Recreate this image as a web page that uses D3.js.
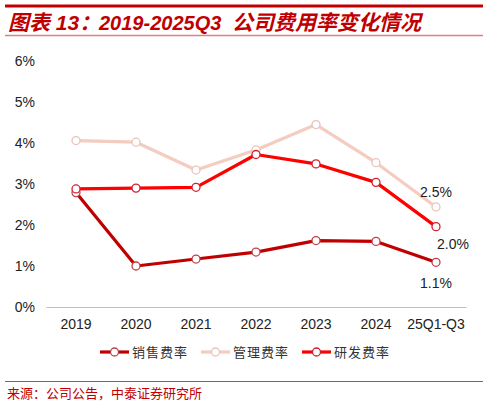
<!DOCTYPE html>
<html>
<head>
<meta charset="utf-8">
<script src="https://cdn.jsdelivr.net/npm/d3@7"></script>
<style>
  body { margin: 0; background: #fff; }
  svg { display: block; }
</style>
</head>
<body>
<div class="graph"></div>
<script>
// data
var years = ["2019", "2020", "2021", "2022", "2023", "2024", "25Q1-Q3"];
var salesRate = [2.79, 1.00, 1.17, 1.34, 1.62, 1.60, 1.09];
var adminRate = [4.06, 4.02, 3.34, 3.83, 4.45, 3.52, 2.44];
var rdRate = [2.88, 2.90, 2.92, 3.72, 3.49, 3.04, 1.96];
var yTicks = [0, 1, 2, 3, 4, 5, 6];
var seriesNames = ["销售费率", "管理费率", "研发费率"];
var endLabels = ["1.1%", "2.5%", "2.0%"];

var W = 488, H = 406;
var red = "#C00000";

var svg = d3.select('.graph').append('svg')
    .attr('width', W)
    .attr('height', H);

// title block
svg.append('line').attr('x1', 5).attr('x2', 483).attr('y1', 6).attr('y2', 6)
    .attr('stroke', "#C00000").attr('stroke-width', 3);
var title = svg.append('text')
    .attr('x', 8).attr('y', 30)
    .attr('fill', red)
    .style('font-family', 'Liberation Sans, "Noto Sans CJK SC", sans-serif')
    .style('font-weight', 'bold')
    .style('font-style', 'italic');
title.append('tspan').style('font-size', '21px').text("图表 13：");
title.append('tspan').attr('x', 99).style('font-size', '20px').text("2019-2025Q3");
title.append('tspan').attr('x', 232).style('font-size', '21px').text("公司费用率变化情况");
svg.append('line').attr('x1', 5).attr('x2', 483).attr('y1', 35.5).attr('y2', 35.5)
    .attr('stroke', "#E08080").attr('stroke-width', 1.5);

// scales
var x = d3.scaleBand().domain(years).range([46, 466]);
var y = d3.scaleLinear().domain([0, 6]).range([307, 61]);
var cx = function (d, i) { return x(years[i]) + x.bandwidth() / 2; };

// y axis labels
svg.append('g').selectAll('text')
    .data(yTicks).enter().append('text')
    .attr('x', 35).attr('y', function (d) { return y(d); })
    .attr('dy', '0.35em')
    .attr('text-anchor', 'end')
    .attr('fill', '#222')
    .style('font-family', 'Liberation Sans, Arial, sans-serif')
    .style('font-size', '14px')
    .text(function (d) { return d + "%"; });

// x axis
var xAxis = svg.append('g')
    .attr('transform', 'translate(0,' + y(0) + ')')
    .call(d3.axisBottom(x).tickSize(0).tickPadding(12));
xAxis.select('.domain').attr('stroke', '#BFBFBF').attr('stroke-width', 1);
xAxis.selectAll('text')
    .attr('fill', '#222')
    .style('font-family', 'Liberation Sans, Arial, sans-serif')
    .style('font-size', '14px');

var series = [
    { name: seriesNames[0], values: salesRate, color: "#C00000", marker: "#C0404A" },
    { name: seriesNames[1], values: adminRate, color: "#F4CCC0", marker: "#E6C4BC" },
    { name: seriesNames[2], values: rdRate, color: "#FF0000", marker: "#D02030" }
];

var line = d3.line()
    .x(cx)
    .y(function (d) { return y(d); });

// draw admin first so sales/rd sit on top like the picture
[1, 0, 2].forEach(function (k) {
    var s = series[k];
    var g = svg.append('g');
    g.append('path')
        .datum(s.values)
        .attr('fill', 'none')
        .attr('stroke', s.color)
        .attr('stroke-width', 3.2)
        .attr('stroke-linejoin', 'round')
        .attr('d', line);
    g.selectAll('circle')
        .data(s.values).enter().append('circle')
        .attr('cx', cx)
        .attr('cy', function (d) { return y(d); })
        .attr('r', 4)
        .attr('fill', '#fff')
        .attr('stroke', s.marker)
        .attr('stroke-width', 1.3);
});

// end labels
var last = years.length - 1;
var lblPos = [
    { s: 0, dx: 0, dy: 21 },
    { s: 1, dx: 0, dy: -15 },
    { s: 2, dx: 17, dy: 17 }
];
lblPos.forEach(function (p) {
    var v = series[p.s].values[last];
    svg.append('text')
        .attr('x', cx(v, last) + p.dx)
        .attr('y', y(v) + p.dy)
        .attr('dy', '0.35em')
        .attr('text-anchor', 'middle')
        .attr('fill', '#222')
        .style('font-family', 'Liberation Sans, Arial, sans-serif')
        .style('font-size', '14px')
        .text(endLabels[p.s]);
});

// legend
var legendX = [100, 201, 302];
var legend = svg.append('g');
series.forEach(function (s, i) {
    var lg = legend.append('g').attr('transform', 'translate(' + legendX[i] + ',352)');
    lg.append('line').attr('x1', 0).attr('x2', 29).attr('y1', 0).attr('y2', 0)
        .attr('stroke', s.color).attr('stroke-width', 3.2);
    lg.append('circle').attr('cx', 14.5).attr('cy', 0).attr('r', 4)
        .attr('fill', '#fff').attr('stroke', s.marker).attr('stroke-width', 1.3);
    lg.append('text')
        .attr('x', 32).attr('y', 0).attr('dy', '0.35em')
        .attr('fill', '#333')
        .style('font-family', '"Noto Sans CJK SC", sans-serif')
        .style('font-size', '13px')
        .style('letter-spacing', '1px')
        .text(s.name);
});

// footer
svg.append('line').attr('x1', 5).attr('x2', 483).attr('y1', 381.5).attr('y2', 381.5)
    .attr('stroke', "#D04040").attr('stroke-width', 1);
svg.append('text')
    .attr('x', 7).attr('y', 393).attr('dy', '0.35em')
    .attr('fill', red)
    .style('font-family', '"Noto Sans CJK SC", sans-serif')
    .style('font-size', '13px')
    .text("来源：公司公告，中泰证券研究所");
</script>
</body>
</html>
